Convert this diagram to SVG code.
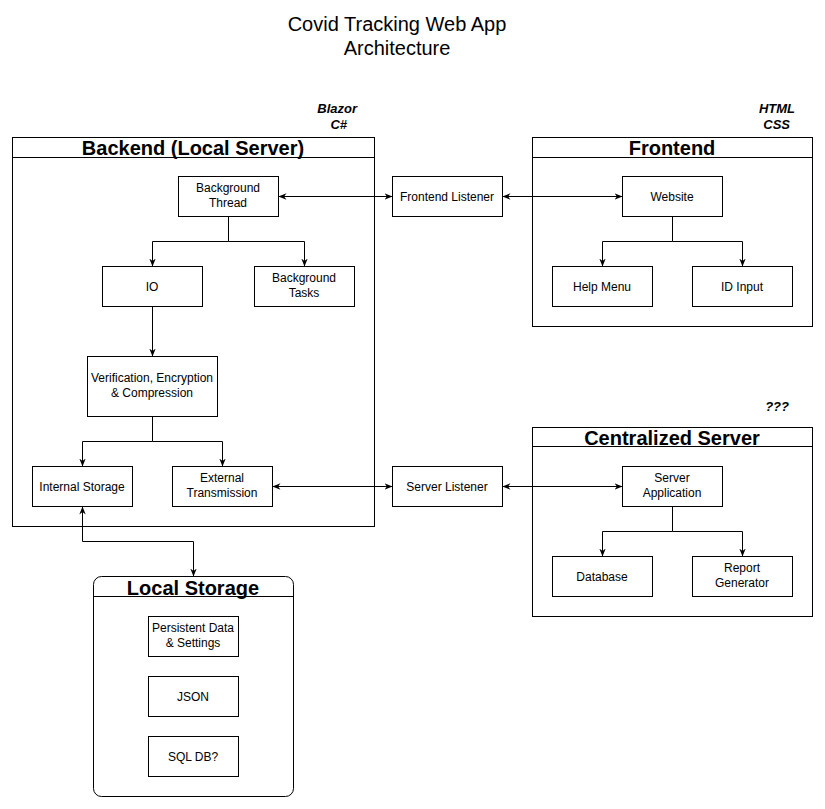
<svg xmlns="http://www.w3.org/2000/svg" width="825" height="809" viewBox="0 0 825 809">
<style>
text{font-family:"Liberation Sans",Arial,Helvetica,sans-serif;fill:#000}
.n{fill:#fff;stroke:#000;stroke-width:1}
.t{font-size:12px;text-anchor:middle}
.h{font-size:20px;font-weight:bold;text-anchor:middle}
.ti{font-size:20px;text-anchor:middle}
.a{font-size:13px;font-weight:bold;font-style:italic;text-anchor:end}
.c{fill:none;stroke:#000;stroke-width:1}
</style>
<defs>
<marker id="ar" viewBox="0 0 10 10" refX="10" refY="5" markerWidth="8" markerHeight="8" markerUnits="userSpaceOnUse" orient="auto-start-reverse">
<path d="M0,1 L10,5 L0,9 L3,5 z" fill="#000"/>
</marker>
</defs>
<rect width="825" height="809" fill="#fff"/>
<g id="title">
<text class="ti" x="397" y="31">Covid Tracking Web App</text>
<text class="ti" x="397" y="55">Architecture</text>
</g>
<g id="annotations">
<text class="a" x="357" y="113">Blazor</text>
<text class="a" x="347" y="129">C#</text>
<text class="a" x="795" y="113">HTML</text>
<text class="a" x="790" y="129">CSS</text>
<text class="a" x="789" y="411">???</text>
</g>
<g id="backend">
<rect class="n" x="12.5" y="137.5" width="362" height="389"/>
<line class="c" x1="12.5" y1="157.5" x2="374.5" y2="157.5"/>
<text class="h" x="193" y="155">Backend (Local Server)</text>
</g>
<g id="frontend">
<rect class="n" x="532.5" y="137.5" width="280" height="189"/>
<line class="c" x1="532.5" y1="157.5" x2="812.5" y2="157.5"/>
<text class="h" x="672" y="155">Frontend</text>
</g>
<g id="centralized">
<rect class="n" x="532.5" y="427.5" width="280" height="189"/>
<line class="c" x1="532.5" y1="446.5" x2="812.5" y2="446.5"/>
<text class="h" x="672" y="445">Centralized Server</text>
</g>
<g id="localstorage">
<rect class="n" x="93.5" y="576.5" width="200" height="220" rx="8" ry="8"/>
<line class="c" x1="93.5" y1="596.5" x2="293.5" y2="596.5"/>
<text class="h" x="193" y="595">Local Storage</text>
</g>
<g id="bgthread"><rect class="n" x="178.5" y="176.5" width="100" height="40"/><text class="t" x="228" y="192">Background</text><text class="t" x="228" y="207">Thread</text></g>
<g id="io"><rect class="n" x="102.5" y="266.5" width="100" height="40"/><text class="t" x="152" y="291">IO</text></g>
<g id="bgtasks"><rect class="n" x="254.5" y="266.5" width="100" height="40"/><text class="t" x="304" y="282">Background</text><text class="t" x="304" y="297">Tasks</text></g>
<g id="verify"><rect class="n" x="87.5" y="356.5" width="130" height="60"/><text class="t" x="152" y="382">Verification, Encryption</text><text class="t" x="152" y="397">&amp; Compression</text></g>
<g id="internal"><rect class="n" x="32.5" y="466.5" width="100" height="40"/><text class="t" x="82" y="491">Internal Storage</text></g>
<g id="external"><rect class="n" x="172.5" y="466.5" width="100" height="40"/><text class="t" x="222" y="482">External</text><text class="t" x="222" y="497">Transmission</text></g>
<g id="frontendlistener"><rect class="n" x="392.5" y="176.5" width="110" height="40"/><text class="t" x="447" y="201">Frontend Listener</text></g>
<g id="serverlistener"><rect class="n" x="392.5" y="466.5" width="110" height="40"/><text class="t" x="447" y="491">Server Listener</text></g>
<g id="website"><rect class="n" x="622.5" y="176.5" width="100" height="40"/><text class="t" x="672" y="201">Website</text></g>
<g id="helpmenu"><rect class="n" x="552.5" y="266.5" width="100" height="40"/><text class="t" x="602" y="291">Help Menu</text></g>
<g id="idinput"><rect class="n" x="692.5" y="266.5" width="100" height="40"/><text class="t" x="742" y="291">ID Input</text></g>
<g id="serverapp"><rect class="n" x="622.5" y="466.5" width="100" height="40"/><text class="t" x="672" y="482">Server</text><text class="t" x="672" y="497">Application</text></g>
<g id="database"><rect class="n" x="552.5" y="556.5" width="100" height="40"/><text class="t" x="602" y="581">Database</text></g>
<g id="report"><rect class="n" x="692.5" y="556.5" width="100" height="40"/><text class="t" x="742" y="572">Report</text><text class="t" x="742" y="587">Generator</text></g>
<g id="persistent"><rect class="n" x="148.5" y="616.5" width="90" height="40"/><text class="t" x="193" y="632">Persistent Data</text><text class="t" x="193" y="647">&amp; Settings</text></g>
<g id="json"><rect class="n" x="148.5" y="676.5" width="90" height="40"/><text class="t" x="193" y="701">JSON</text></g>
<g id="sqldb"><rect class="n" x="148.5" y="736.5" width="90" height="40"/><text class="t" x="193" y="761">SQL DB?</text></g>
<g id="connectors">
<path class="c" d="M278.5,196.5 H392.5" marker-start="url(#ar)" marker-end="url(#ar)"/>
<path class="c" d="M502.5,196.5 H622.5" marker-start="url(#ar)" marker-end="url(#ar)"/>
<path class="c" d="M272.5,486.5 H392.5" marker-start="url(#ar)" marker-end="url(#ar)"/>
<path class="c" d="M502.5,486.5 H622.5" marker-start="url(#ar)" marker-end="url(#ar)"/>
<path class="c" d="M228.5,216.5 V241.5 H152.5 V266.5" marker-end="url(#ar)"/>
<path class="c" d="M228.5,241.5 H304.5 V266.5" marker-end="url(#ar)"/>
<path class="c" d="M152.5,306.5 V356.5" marker-end="url(#ar)"/>
<path class="c" d="M152.5,416.5 V441.5 H82.5 V466.5" marker-end="url(#ar)"/>
<path class="c" d="M152.5,441.5 H222.5 V466.5" marker-end="url(#ar)"/>
<path class="c" d="M672.5,216.5 V241.5 H602.5 V266.5" marker-end="url(#ar)"/>
<path class="c" d="M672.5,241.5 H742.5 V266.5" marker-end="url(#ar)"/>
<path class="c" d="M672.5,506.5 V531.5 H602.5 V556.5" marker-end="url(#ar)"/>
<path class="c" d="M672.5,531.5 H742.5 V556.5" marker-end="url(#ar)"/>
<path class="c" d="M82.5,506.5 V541.5 H193.5 V576.5" marker-start="url(#ar)" marker-end="url(#ar)"/>
</g>
</svg>
